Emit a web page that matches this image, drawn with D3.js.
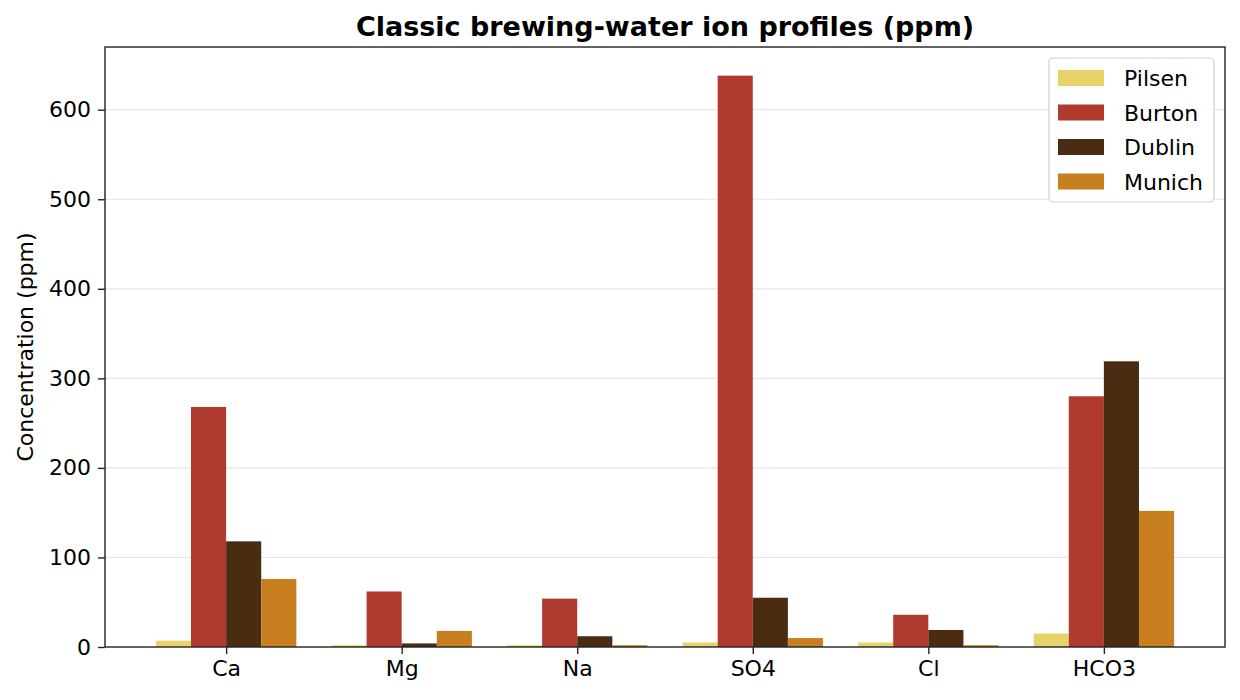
<!DOCTYPE html>
<html><head><meta charset="utf-8">
<script src="https://cdn.jsdelivr.net/npm/d3@7"></script>
<style>body{margin:0;background:#fff;} text{font-family:"DejaVu Sans",sans-serif;}</style>
</head><body>
<svg id="c" width="1240" height="700"></svg>
<script>
const categories = ["Ca","Mg","Na","SO4","Cl","HCO3"];
const seriesNames = ["Pilsen","Burton","Dublin","Munich"];
const pilsen = [7,2,2,5,5,15];
const burton = [268,62,54,638,36,280];
const dublin = [118,4,12,55,19,319];
const munich = [76,18,2,10,2,152];
const colors = ["#e8d36a","#b03a2e","#4a2c13","#c87f1f"];
const yTicks = [0,100,200,300,400,500,600];
const values = [pilsen,burton,dublin,munich];

const svg = d3.select("#c");
const L=105,R=1225,T=47,B=647;
const x = d3.scaleLinear().domain([-0.69,5.69]).range([L,R]);
const y = d3.scaleLinear().domain([0,670]).range([B,T]);
const bw = 0.2;
const FS = 22;

// grid
svg.append("g").selectAll("line").data(yTicks.slice(1)).join("line")
  .attr("x1",L).attr("x2",R).attr("y1",d=>y(d)).attr("y2",d=>y(d))
  .attr("stroke","#e6e6e6").attr("stroke-width",1.2);

// bars
seriesNames.forEach((s,si)=>{
  svg.append("g").selectAll("rect").data(values[si]).join("rect")
    .attr("x",(d,i)=>x(i+(si-1.5)*bw-bw/2))
    .attr("width",(d,i)=>x(i+(si-1.5)*bw+bw/2)-x(i+(si-1.5)*bw-bw/2))
    .attr("y",d=>y(d)).attr("height",d=>B-y(d))
    .attr("fill",colors[si]);
});

// axes
const xa = d3.axisBottom(x).tickValues(d3.range(categories.length)).tickFormat(i=>categories[i]).tickSize(7).tickPadding(6);
const gx = svg.append("g").attr("transform",`translate(0,${B})`).call(xa);
const ya = d3.axisLeft(y).tickValues(yTicks).tickSize(7).tickPadding(7);
const gy = svg.append("g").attr("transform",`translate(${L},0)`).call(ya);
[gx,gy].forEach(g=>{g.select(".domain").remove(); g.selectAll("text").attr("font-size",FS).attr("fill","#000").style("font-family","DejaVu Sans"); g.selectAll("line").attr("stroke","#222").attr("stroke-width",1.4);});

svg.append("rect").attr("x",L).attr("y",T).attr("width",R-L).attr("height",B-T)
  .attr("fill","none").attr("stroke","#222").attr("stroke-width",1.4);

// title & labels
svg.append("text").attr("x",(L+R)/2).attr("y",36).attr("text-anchor","middle")
  .attr("font-size",27).attr("font-weight","bold").text("Classic brewing-water ion profiles (ppm)");
svg.append("text").attr("transform",`translate(33,${(T+B)/2}) rotate(-90)`).attr("text-anchor","middle")
  .attr("font-size",FS).text("Concentration (ppm)");

// legend
const lg = svg.append("g");
lg.append("rect").attr("x",1049).attr("y",58).attr("width",165).attr("height",144).attr("rx",4)
  .attr("fill","#fff").attr("fill-opacity",0.8).attr("stroke","#d0d0d0").attr("stroke-width",1.2);
seriesNames.forEach((s,i)=>{
  const cy = 78 + i*34.5;
  lg.append("rect").attr("x",1058).attr("y",cy-8).attr("width",46).attr("height",16).attr("fill",colors[i]);
  lg.append("text").attr("x",1124).attr("y",cy+8).attr("font-size",FS).text(s);
});
</script>
</body></html>
